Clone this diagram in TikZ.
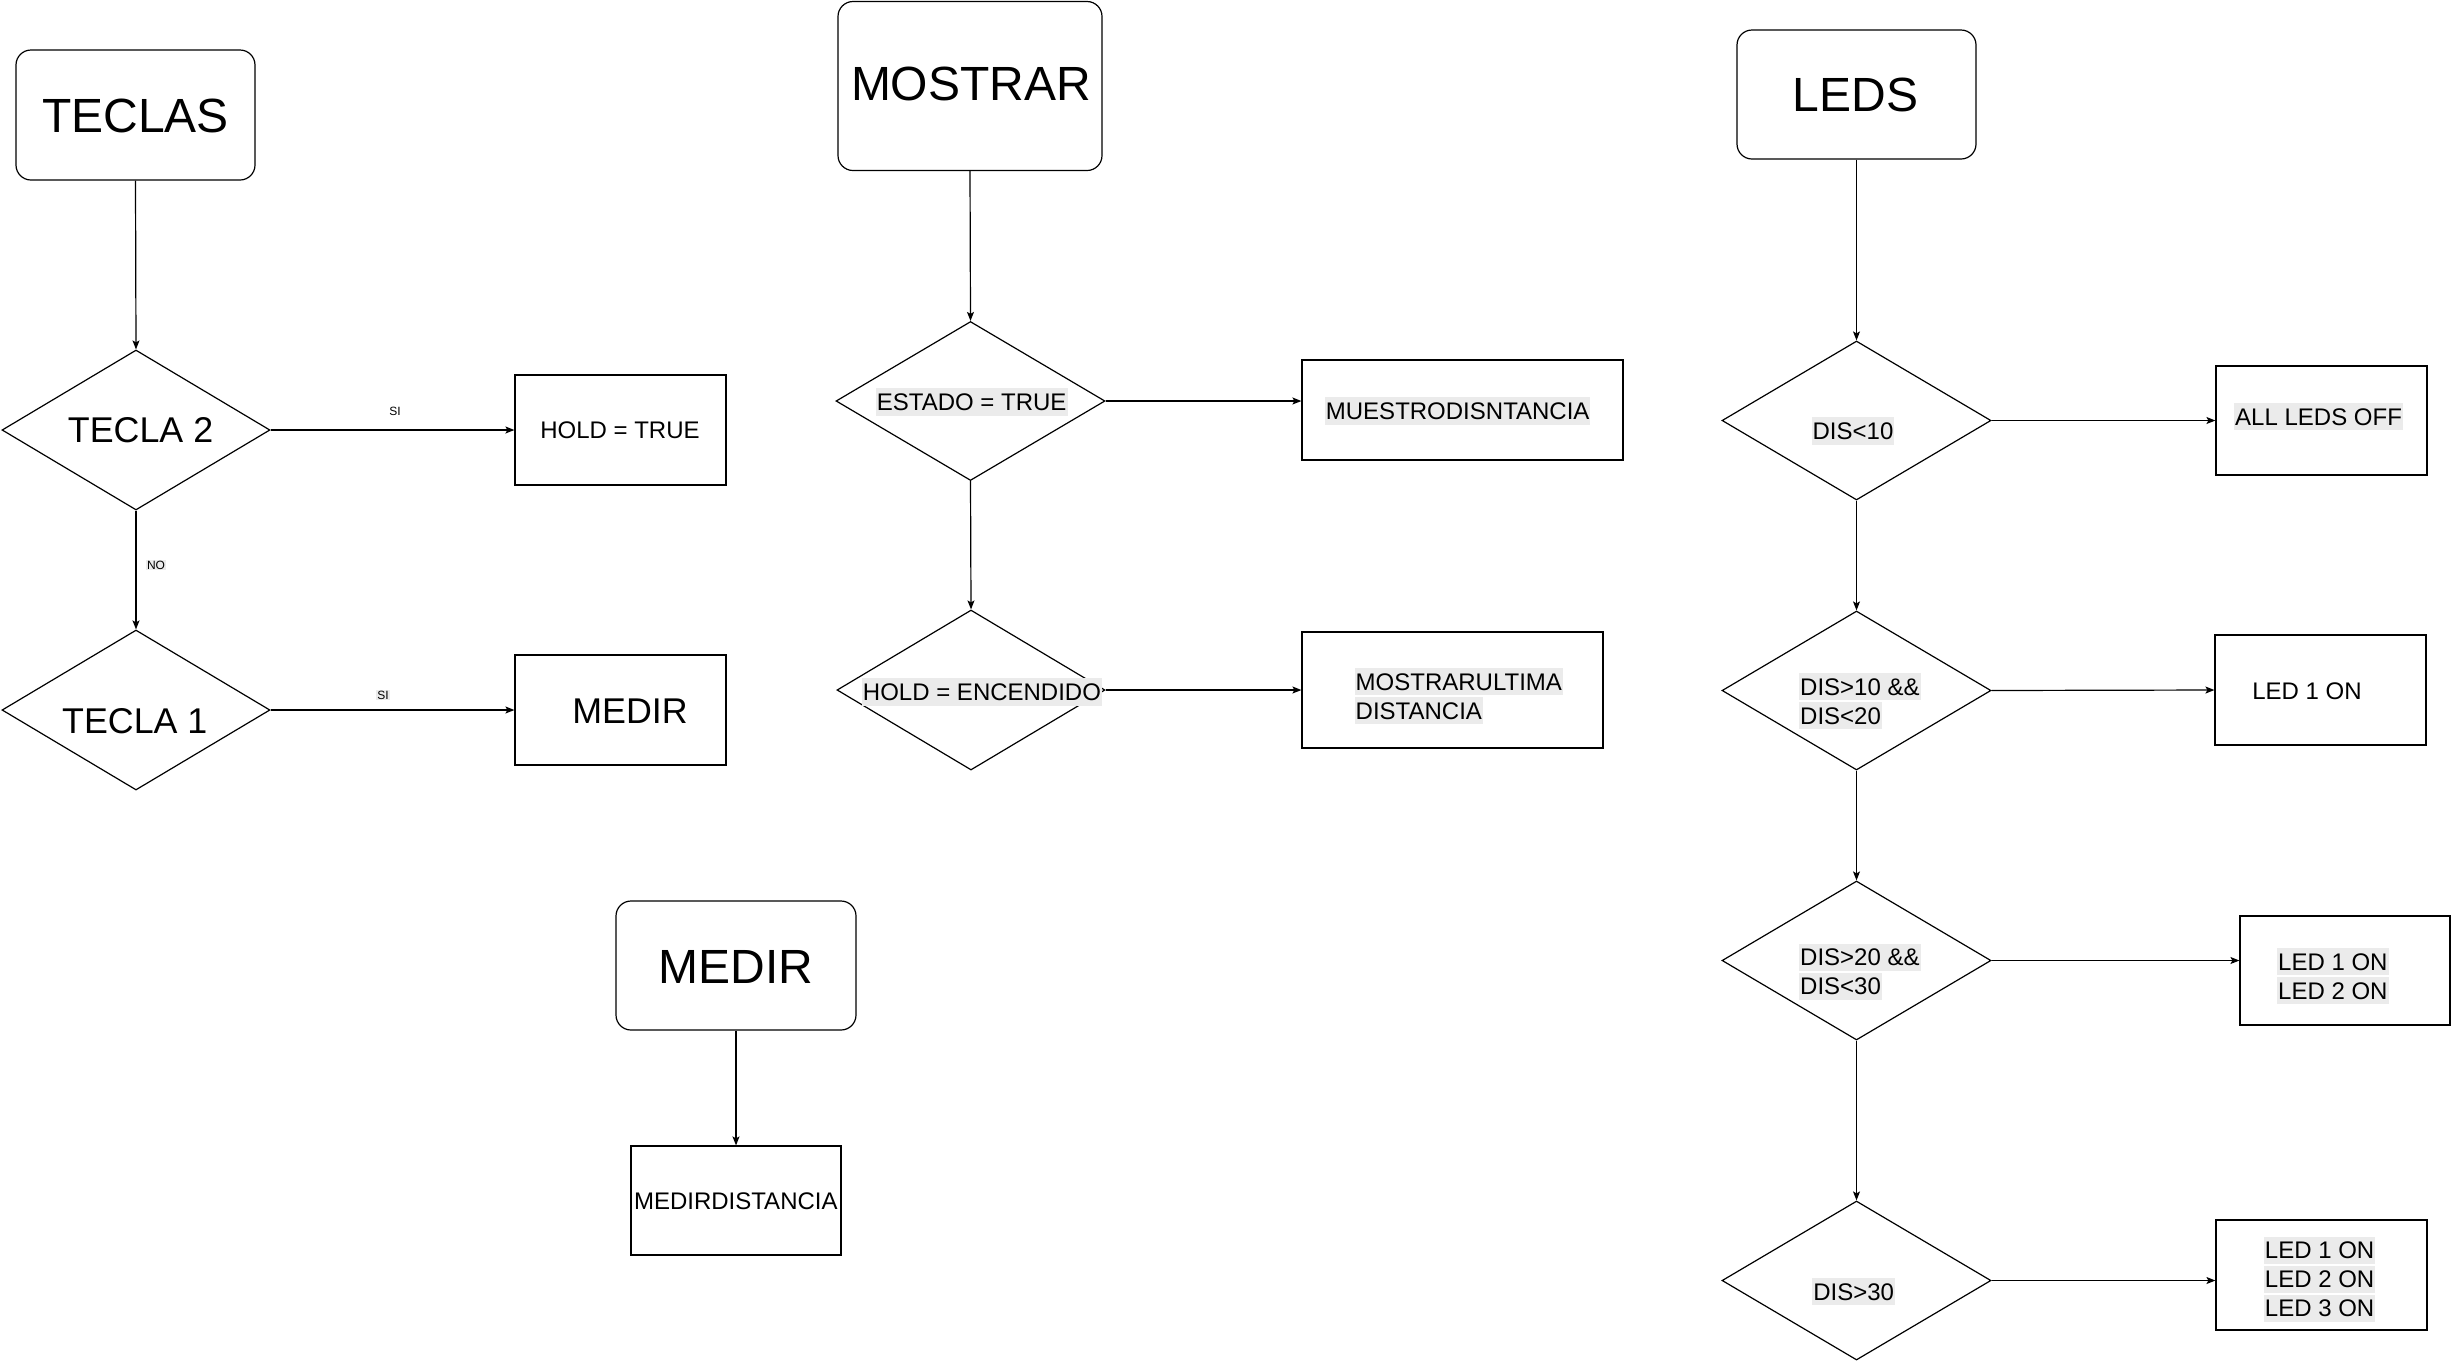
\documentclass[tikz,border=0pt]{standalone}
\usepackage{fontspec}
\setmainfont{Liberation Sans}
\usetikzlibrary{shapes.geometric,arrows.meta}
\definecolor{hlgrey}{HTML}{EBEBEB}
\newcommand{\hlt}[1]{{\setlength{\fboxsep}{0pt}\colorbox{hlgrey}{\kern1pt\rule[-5.2pt]{0pt}{27.4pt}#1\kern1pt}}}
\tikzset{
  box/.style={draw, line width=1.2pt, rectangle, inner sep=0pt},
  rbox/.style={box, rounded corners=15pt},
  dia/.style={draw, diamond, line width=1.2pt, inner sep=0pt},
  arr/.style={line width=1.2pt, -{Stealth[length=9pt,width=7pt,inset=2pt]}},
  txt/.style={inner sep=0pt, font=\fontsize{24}{29}\selectfont, align=left},
  bigtxt/.style={inner sep=0pt, font=\fontsize{48}{56}\selectfont},
  midtxt/.style={inner sep=0pt, font=\fontsize{35.8}{42}\selectfont},
  lbl/.style={inner sep=1pt, font=\fontsize{12}{14}\selectfont},
}
\begin{document}
\begin{tikzpicture}[x=1pt,y=-1pt]
\useasboundingbox (0,0) rectangle (2451,1361);
% ---- TECLAS column
\node[rbox, minimum width=239pt, minimum height=130pt] (teclas) at (135.5,115) {};
\node[dia, minimum width=268pt, minimum height=160pt] (tecla2) at (136,430) {};
\node[dia, minimum width=268pt, minimum height=160pt] (tecla1) at (136,710) {};
\node[box, minimum width=211pt, minimum height=110pt] (holdtrue) at (620.5,430) {};
\node[box, minimum width=211pt, minimum height=110pt] (medirbox) at (620.5,710) {};
\node[bigtxt] (tteclas) at (135.5,116) {TECLAS};
\node[midtxt] (ttecla2) at (140.6,430) {TECLA 2};
\node[midtxt] (ttecla1) at (134.8,721) {TECLA 1};
\node[txt] (tholdtrue) at (620,430.5) {HOLD = TRUE};
\node[midtxt] (tmedirbox) at (630,711) {MEDIR};
\draw[arr] (teclas.south) -- (tecla2.north);
\draw[arr] (tecla2.east) -- (holdtrue.west);
\draw[arr] (tecla2.south) -- (tecla1.north);
\draw[arr] (tecla1.east) -- (medirbox.west);
\node[lbl] (si1) at (395,411) {SI};
\node[lbl, fill=hlgrey] (si2) at (383,695) {SI};
\node[lbl, fill=hlgrey] (no1) at (156,565) {NO};
% ---- MOSTRAR column
\node[rbox, minimum width=264pt, minimum height=169pt] (mostrar) at (970,86) {};
\node[dia, minimum width=269pt, minimum height=159pt] (estado) at (970.5,401) {};
\node[dia, minimum width=268pt, minimum height=160pt] (holdenc) at (971,690) {};
\node[box, minimum width=321pt, minimum height=100pt] (muestro) at (1462.5,410) {};
\node[box, minimum width=301pt, minimum height=116pt] (ultima) at (1452.5,690) {};
\node[bigtxt] (tmostrar) at (971,84.4) {MOSTRAR};
\node[txt] (testado) at (971.7,402) {\hlt{ESTADO = TRUE}};
\node[txt] (tholdenc) at (982,692) {\hlt{HOLD = ENCENDIDO}};
\node[txt, anchor=west] (tmuestro) at (1324.7,411) {\hlt{MUESTRODISNTANCIA}};
\node[txt, anchor=west] (tultima) at (1354.5,696) {\hlt{MOSTRARULTIMA}\\\hlt{DISTANCIA}};
\draw[arr] (mostrar.south) -- (estado.north);
\draw[arr] (estado.east) -- (muestro.west |- estado.east);
\draw[arr] (estado.south) -- (holdenc.north);
\draw[arr] (holdenc.east) -- (ultima.west);
% ---- MEDIR
\node[rbox, minimum width=240pt, minimum height=129pt] (medir) at (736,965.5) {};
\node[box, minimum width=210pt, minimum height=109pt] (medirdist) at (736,1200.5) {};
\node[bigtxt] (tmedir) at (735.8,967) {MEDIR};
\node[txt] (tmedirdist) at (735.8,1201.7) {MEDIRDISTANCIA};
\draw[arr] (medir.south) -- (medirdist.north);
% ---- LEDS column
\node[rbox, minimum width=239pt, minimum height=129pt] (leds) at (1856.5,94.5) {};
\node[dia, minimum width=269pt, minimum height=159pt] (d1) at (1856.5,420.5) {};
\node[dia, minimum width=269pt, minimum height=159pt] (d2) at (1856.5,690.5) {};
\node[dia, minimum width=269pt, minimum height=159pt] (d3) at (1856.5,960.5) {};
\node[dia, minimum width=269pt, minimum height=159pt] (d4) at (1856.5,1280.5) {};
\node[box, minimum width=211pt, minimum height=109pt] (alloff) at (2321.5,420.5) {};
\node[box, minimum width=211pt, minimum height=110pt] (led1) at (2320.5,690) {};
\node[box, minimum width=210pt, minimum height=109pt] (led12) at (2345,970.5) {};
\node[box, minimum width=211pt, minimum height=110pt] (led123) at (2321.5,1275) {};
\node[bigtxt] (tleds) at (1855.5,95.3) {LEDS};
\node[txt] (td1) at (1853,431) {\hlt{DIS<10}};
\node[txt, anchor=west] (td2) at (1799,701) {\hlt{DIS>10 \&\&}\\\hlt{DIS<20}};
\node[txt, anchor=west] (td3) at (1799,971.7) {\hlt{DIS>20 \&\&}\\\hlt{DIS<30}};
\node[txt] (td4) at (1853.7,1291.7) {\hlt{DIS>30}};
\node[txt, anchor=west] (talloff) at (2234,416.7) {\hlt{ALL LEDS OFF}};
\node[txt] (tled1) at (2307,691.7) {LED 1 ON};
\node[txt, anchor=west] (tled12) at (2277,976.2) {\hlt{LED 1 ON}\\\hlt{LED 2 ON}};
\node[txt, anchor=west] (tled123) at (2263.7,1279.3) {\hlt{LED 1 ON}\\\hlt{LED 2 ON}\\\hlt{LED 3 ON}};
\draw[arr] (leds.south) -- (d1.north);
\draw[arr] (d1.south) -- (d2.north);
\draw[arr] (d2.south) -- (d3.north);
\draw[arr] (d3.south) -- (d4.north);
\draw[arr] (d1.east) -- (alloff.west);
\draw[arr] (d2.east) -- (led1.west);
\draw[arr] (d3.east) -- (led12.west |- d3.east);
\draw[arr] (d4.east) -- (led123.west |- d4.east);
\end{tikzpicture}
\end{document}
